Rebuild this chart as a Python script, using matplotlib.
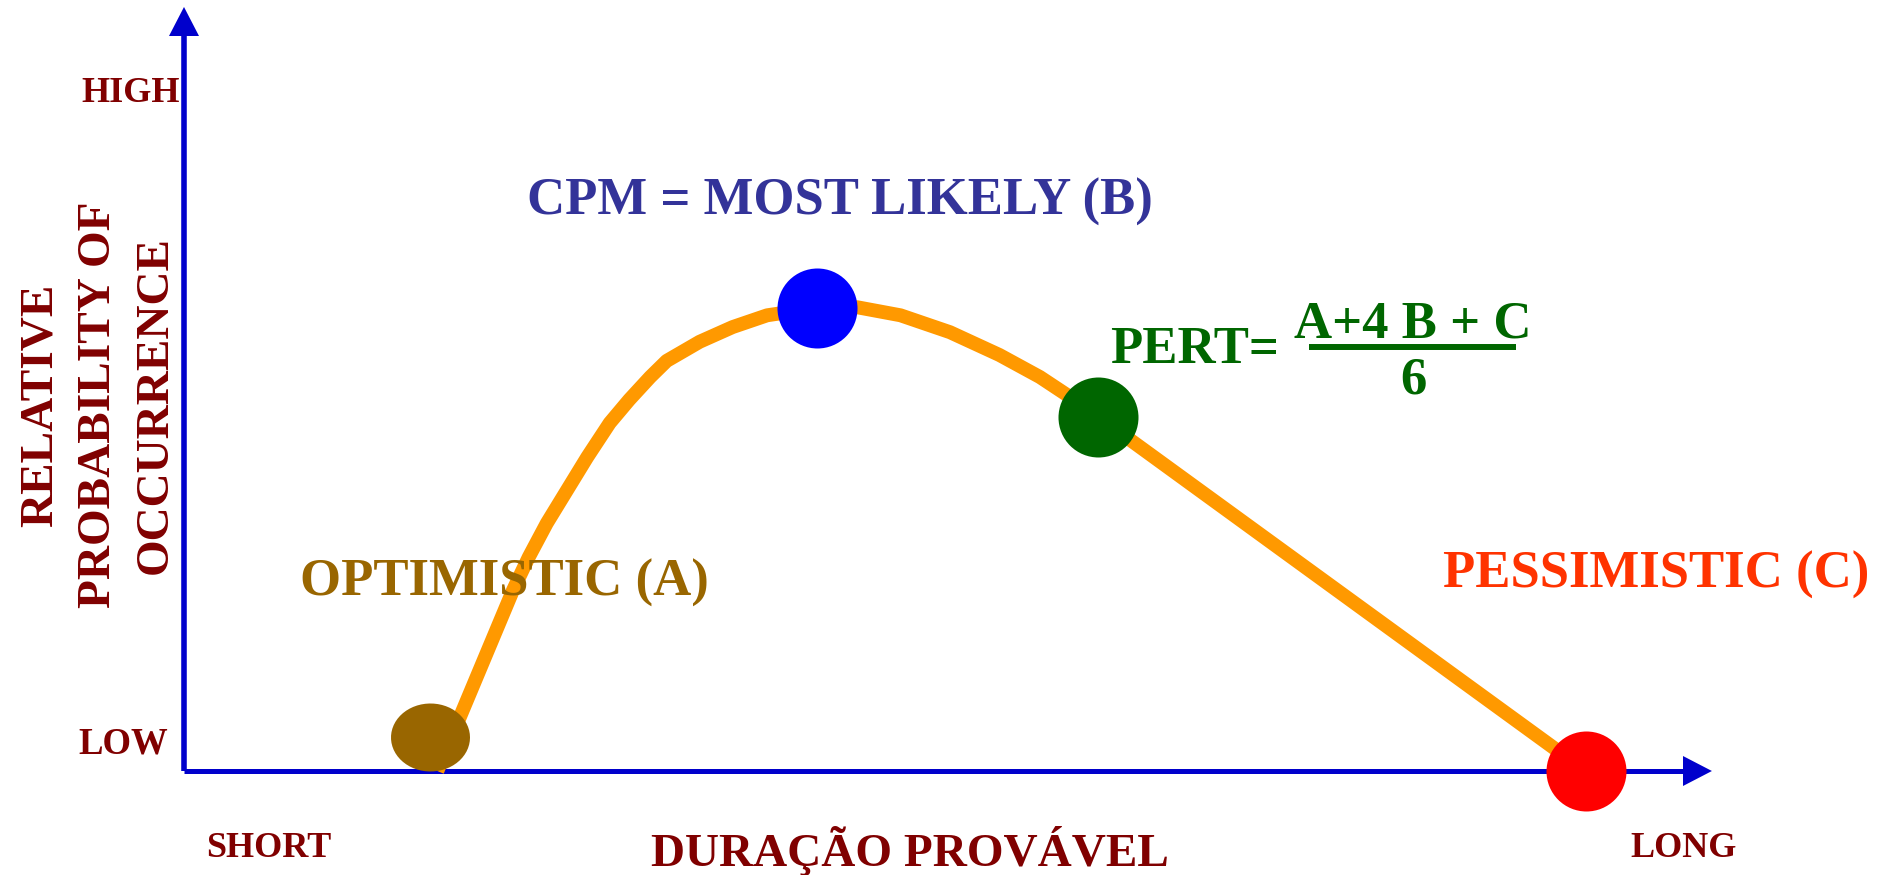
import matplotlib
matplotlib.use("Agg")
import matplotlib.pyplot as plt
from matplotlib.path import Path
from matplotlib.patches import Polygon
from matplotlib.lines import Line2D
import numpy as np

# Probability curve of activity duration (arbitrary units, 0-100 on both axes)
duration = [16.9, 21.95, 23.0, 24.2, 25.55, 26.9, 28.4, 29.7, 31.1, 32.2,
            34.4, 36.6, 38.9, 42.2, 44.9, 47.8, 51.1, 54.4, 57.1, 59.1,
            61.0, 93.5]
probability = [0.0, 24.6, 29.1, 33.7, 38.2, 42.7, 47.35, 50.5, 53.6, 55.8,
               58.4, 60.4, 62.0, 63.0, 63.1, 62.0, 59.7, 56.6, 53.6, 50.9,
               48.2, 0.0]

# Time estimates marked on the curve
estimate_names = ["A", "B", "PERT", "C"]
estimate_x = [16.4, 42.2, 61.0, 93.5]
estimate_y = [4.6, 63.0, 48.2, 0.0]
estimate_colors = ["#996600", "#0000FF", "#006600", "#FF0000"]

W, H, DPI = 1896, 875, 100
X0, Y0 = 184, 771          # axis origin in pixels
SX, SY = 14.99, 7.35       # pixels per data unit

fig = plt.figure(figsize=(W / DPI, H / DPI), dpi=DPI)
fig.patch.set_facecolor("white")
ax = fig.add_axes([0, 0, 1, 1])
ax.set_xlim(-X0 / SX, (W - X0) / SX)
ax.set_ylim(-(H - Y0) / SY, Y0 / SY)
ax.axis("off")

AXIS = "#0000CC"
LABEL = "#800000"
FONT = "Liberation Serif"

def fpos(x, y):
    return x / W, 1 - y / H

# Axes with arrow heads
x_end, x_tip = 100.0, 101.93
y_end, y_tip = 100.0, 103.95
ax.plot([0, 0], [0, y_end], color=AXIS, lw=4.0, solid_capstyle="butt", zorder=1)
ax.plot([0, x_end], [0, 0], color=AXIS, lw=3.6, solid_capstyle="butt", zorder=1)
ax.add_patch(Polygon([[-15 / SX, y_end], [15 / SX, y_end], [0, y_tip]],
                     closed=True, color=AXIS, lw=0, zorder=1))
ax.add_patch(Polygon([[x_end, 15 / SY], [x_end, -15 / SY], [x_tip, 0]],
                     closed=True, color=AXIS, lw=0, zorder=1))

# Curve
ax.plot(duration, probability, color="#FF9900", lw=10, solid_joinstyle="round",
        solid_capstyle="butt", zorder=2)

# Markers: optimistic point is a slightly flattened ellipse
t = np.linspace(0, 2 * np.pi, 60)
ellipse = Path(np.column_stack([np.cos(t), np.sin(t) * 68 / 79]), closed=True)
shapes = [ellipse, "o", "o", "o"]
sizes = [56.9, 57.6, 57.6, 57.6]
for xv, yv, c, m, s in zip(estimate_x, estimate_y, estimate_colors, shapes, sizes):
    ax.plot([xv], [yv], marker=m, ms=s, color=c, mec="none", mew=0, zorder=3)

def label(x, y, s, color, size, ha="left", **kw):
    fx, fy = fpos(x, y)
    fig.text(fx, fy, s, color=color, fontsize=size, family=FONT,
             fontweight="bold", ha=ha, va="baseline", **kw)

# Axis end labels
label(180, 102, "HIGH", LABEL, 26, ha="right")
label(168, 753, "LOW", LABEL, 26.5, ha="right")
label(206, 857, "SHORT", LABEL, 26)
label(1630, 857, "LONG", LABEL, 26)
label(910, 866, "DURAÇÃO PROVÁVEL", LABEL, 34, ha="center")

# Vertical axis title (three rotated lines)
for bx, line in [(52, "RELATIVE"), (110, "PROBABILITY OF"), (167, "OCCURRENCE")]:
    fx, fy = fpos(bx, 405)
    fig.text(fx, fy, line, color=LABEL, fontsize=34, family=FONT,
             fontweight="bold", rotation=90, rotation_mode="anchor",
             ha="center", va="baseline")

# Estimate labels
label(527, 215, "CPM = MOST LIKELY (B)", "#333399", 38)
label(300, 596, "OPTIMISTIC (A)", "#996600", 38)
label(1443, 588, "PESSIMISTIC (C)", "#FF3300", 38)

# PERT formula
GREEN = "#006600"
label(1110, 363, "PERT=", GREEN, 38)
label(1413, 337, "A+4 B + C", GREEN, 38, ha="center")
label(1413, 394, "6", GREEN, 38, ha="center")
bx0, by = fpos(1309, 347)
bx1, _ = fpos(1516, 347)
fig.add_artist(Line2D([bx0, bx1], [by, by], color=GREEN, lw=4.3,
                      solid_capstyle="butt", transform=fig.transFigure))

fig.savefig("out.png", dpi=DPI, facecolor="white")
